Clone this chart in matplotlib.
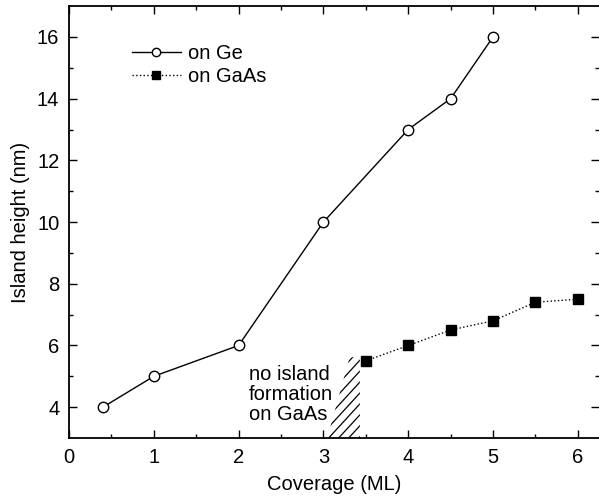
import numpy as np
import matplotlib
matplotlib.use('Agg')
import matplotlib.pyplot as plt
from matplotlib.patches import Polygon

plt.rcParams['font.family'] = ['Liberation Sans', 'DejaVu Sans']
plt.rcParams['font.size'] = 14.5

# data
ge_cov = [0.4, 1, 2, 3, 4, 4.5, 5]
ge_height = [4, 5, 6, 10, 13, 14, 16]
gaas_cov = [3.5, 4, 4.5, 5, 5.5, 6]
gaas_height = [5.5, 6, 6.5, 6.8, 7.4, 7.5]

# region with no island formation on GaAs (hatched)
noisland_x = [3.05, 3.43, 3.43, 3.31, 3.09]
noisland_y = [3.0, 3.0, 5.62, 5.62, 3.45]

fig = plt.figure(figsize=(5.99, 4.97), dpi=100)
ax = fig.add_axes([0.1152, 0.1187, 0.8848, 0.869])

ax.plot(ge_cov, ge_height, '-', color='black', lw=1, marker='o', ms=7.5,
        mfc='white', mec='black', mew=1, label='on Ge', zorder=3)
ax.plot(gaas_cov, gaas_height, ':', color='black', lw=1, marker='s', ms=7,
        mfc='black', mec='black', label='on GaAs', zorder=3)

# hatched region: slanted lines clipped to the polygon
poly = Polygon(list(zip(noisland_x, noisland_y)), closed=True, fill=False,
               edgecolor='none')
ax.add_patch(poly)
slope = 3.0
for x0 in np.arange(2.0, 3.5, 0.118):
    xs = np.array([x0, x0 + 1.0])
    ln, = ax.plot(xs, 3.0 + slope * (xs - x0), color='black', lw=0.9)
    ln.set_clip_path(poly)

ax.text(2.12, 5.38, 'no island\nformation\non GaAs', ha='left', va='top',
        linespacing=1.08)

ax.set_xlim(0, 6.25)
ax.set_ylim(3, 17)
ax.set_xticks([0, 1, 2, 3, 4, 5, 6])
ax.set_xticks(np.arange(0.5, 6.3, 1.0), minor=True)
ax.set_yticks([4, 6, 8, 10, 12, 14, 16])
ax.set_yticks([5, 7, 9, 11, 13, 15], minor=True)
ax.tick_params(which='both', direction='in', top=True, right=True, width=1)
ax.tick_params(which='major', length=6, pad=7)
ax.tick_params(which='minor', length=3)
ax.spines['right'].set_visible(False)
for s in ['left', 'bottom', 'top']:
    ax.spines[s].set_linewidth(1.3)

ax.set_xlabel('Coverage (ML)', labelpad=6)
ax.set_ylabel('Island height (nm)', labelpad=5)

ax.legend(loc='upper left', bbox_to_anchor=(0.085, 0.955), frameon=False,
          handlelength=2.4, handletextpad=0.35, labelspacing=0.2,
          markerscale=0.8)

fig.savefig('out.png', dpi=100)
